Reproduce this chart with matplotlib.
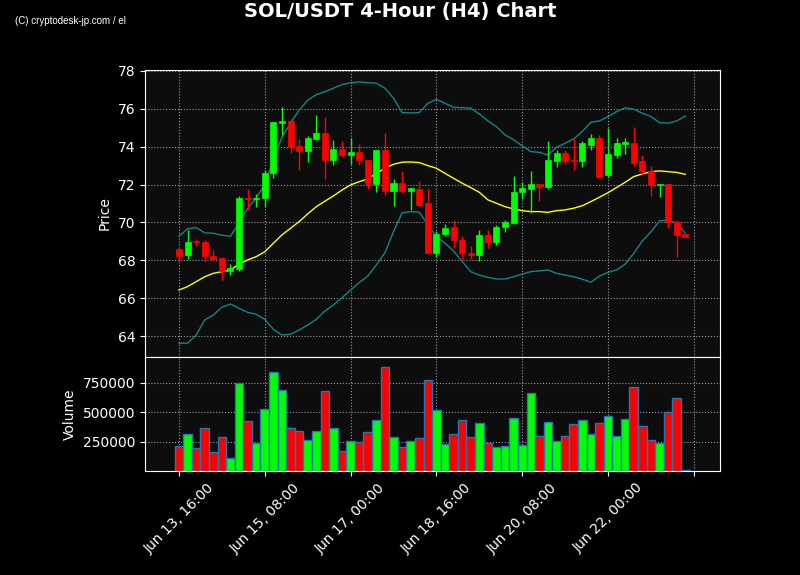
import numpy as np
import pandas as pd
import matplotlib
matplotlib.use('Agg')
import matplotlib.pyplot as plt
from matplotlib.ticker import FuncFormatter

# SOL/USDT 4h candles (60 bars from Jun 13 16:00)
times = pd.date_range('2025-06-13 16:00', periods=60, freq='4h')

opens = [68.62, 68.26, 69.00, 68.99, 68.25, 68.14, 67.42, 67.56, 71.31, 71.24,
         71.28, 72.60, 75.24, 75.33, 74.03, 73.76, 74.43, 74.70, 73.29, 73.89,
         73.55, 73.74, 73.32, 72.05, 73.85, 71.65, 72.09, 71.65, 71.77, 71.00,
         68.41, 69.37, 69.78, 69.09, 68.41, 68.26, 69.36, 68.95, 69.74, 69.99,
         71.60, 71.79, 72.05, 71.86, 73.23, 73.69, 73.29, 73.23, 74.11, 74.48,
         72.48, 73.55, 74.15, 74.20, 73.22, 72.74, 71.96, 72.04, 70.03, 69.37]
highs = [68.65, 69.59, 69.13, 69.06, 68.55, 68.19, 67.82, 71.38, 71.77, 71.51,
         72.79, 75.28, 76.11, 75.47, 74.43, 74.57, 75.68, 75.58, 74.34, 74.29,
         74.47, 74.15, 73.32, 73.85, 74.73, 72.30, 72.70, 71.84, 72.21, 71.81,
         69.52, 69.94, 70.13, 69.27, 68.76, 69.59, 69.59, 69.87, 70.13, 72.44,
         72.12, 72.69, 72.05, 74.31, 73.85, 73.85, 74.38, 74.29, 74.68, 74.59,
         74.96, 74.48, 74.47, 75.05, 73.57, 72.99, 72.04, 72.04, 70.13, 69.37]
lows = [67.86, 68.09, 68.74, 67.91, 67.95, 66.96, 67.23, 67.42, 70.68, 70.82,
        70.82, 72.35, 74.64, 73.64, 72.79, 73.20, 74.34, 72.30, 73.02, 73.45,
        73.11, 73.02, 71.74, 71.60, 71.45, 70.85, 71.56, 70.64, 70.85, 68.41,
        68.19, 69.27, 68.67, 68.04, 68.09, 67.97, 68.67, 68.78, 69.48, 69.94,
        71.24, 70.50, 71.15, 71.74, 72.90, 73.06, 72.79, 72.93, 73.85, 72.35,
        72.41, 73.41, 73.59, 73.00, 72.49, 71.40, 71.35, 69.71, 68.19, 69.22]
closes = [68.21, 68.99, 68.95, 68.21, 68.09, 67.42, 67.60, 71.31, 71.24, 71.31,
          72.63, 75.28, 75.33, 73.97, 73.76, 74.47, 74.70, 73.29, 73.89, 73.55,
          73.74, 73.29, 72.05, 73.85, 71.65, 72.09, 71.65, 71.84, 70.94, 68.41,
          69.41, 69.73, 69.06, 68.37, 68.26, 69.36, 68.95, 69.78, 70.04, 71.63,
          71.84, 72.05, 71.86, 73.27, 73.69, 73.23, 73.23, 74.17, 74.48, 72.41,
          73.59, 74.17, 74.24, 73.13, 72.70, 71.96, 72.04, 70.03, 69.32, 69.22]
volumes = [209e3, 311e3, 192e3, 362e3, 158e3, 285e3, 107e3, 751e3, 429e3, 234e3,
           531e3, 845e3, 692e3, 370e3, 342e3, 266e3, 342e3, 684e3, 362e3, 172e3,
           257e3, 243e3, 336e3, 438e3, 887e3, 285e3, 201e3, 251e3, 277e3, 777e3,
           523e3, 226e3, 319e3, 438e3, 285e3, 412e3, 234e3, 201e3, 209e3, 455e3,
           218e3, 667e3, 302e3, 421e3, 251e3, 302e3, 404e3, 438e3, 319e3, 412e3,
           472e3, 294e3, 446e3, 718e3, 379e3, 260e3, 234e3, 506e3, 624e3, 5e3]

# Bollinger bands (20) as drawn
bb_upper = [69.27, 69.66, 69.73, 69.45, 69.43, 69.32, 69.27, 69.97, 70.73, 71.30,
            72.00, 73.30, 74.50, 75.24, 75.93, 76.45, 76.75, 76.90, 77.09, 77.28,
            77.38, 77.42, 77.38, 77.35, 77.09, 76.56, 75.80, 75.78, 75.80, 76.29,
            76.50, 76.29, 76.08, 76.06, 76.03, 75.73, 75.36, 75.06, 74.62, 74.36,
            74.04, 73.74, 73.70, 73.56, 73.97, 74.18, 74.41, 74.80, 75.29, 75.36,
            75.59, 75.85, 76.06, 75.98, 75.77, 75.59, 75.27, 75.24, 75.36, 75.62]
bb_mid = [66.43, 66.61, 66.87, 67.13, 67.31, 67.40, 67.49, 67.80, 68.02, 68.19,
          68.45, 68.90, 69.34, 69.69, 70.04, 70.45, 70.83, 71.12, 71.40, 71.71,
          71.98, 72.15, 72.29, 72.59, 72.86, 73.07, 73.18, 73.19, 73.16, 73.00,
          72.86, 72.59, 72.33, 72.07, 71.84, 71.59, 71.19, 71.01, 70.83, 70.71,
          70.62, 70.57, 70.57, 70.53, 70.62, 70.66, 70.75, 70.88, 71.10, 71.33,
          71.57, 71.84, 72.12, 72.42, 72.56, 72.68, 72.72, 72.68, 72.64, 72.54]
bb_lower = [63.62, 63.62, 64.05, 64.85, 65.11, 65.52, 65.69, 65.46, 65.25, 65.15,
            64.88, 64.35, 64.05, 64.09, 64.32, 64.58, 64.88, 65.32, 65.64, 66.02,
            66.43, 66.82, 67.17, 67.75, 68.40, 69.51, 70.51, 70.57, 70.54, 69.87,
            69.25, 68.90, 68.49, 67.93, 67.40, 67.22, 67.10, 67.01, 67.01, 67.13,
            67.27, 67.40, 67.44, 67.49, 67.31, 67.22, 67.13, 67.00, 66.84, 67.17,
            67.36, 67.49, 67.80, 68.37, 69.02, 69.51, 70.08, 70.13, 69.95, 69.43]

UP, DOWN = '#00ff00', '#ff0000'
BG = '#0d0d0d'

x = np.arange(len(opens))
o, h, l, c = map(np.array, (opens, highs, lows, closes))
colors = [UP if cc >= oo else DOWN for oo, cc in zip(o, c)]

fig = plt.figure(figsize=(8, 5.75), dpi=100, facecolor='black')
ax1 = fig.add_axes([0.18125, 0.3791, 0.71875, 0.4992])
ax2 = fig.add_axes([0.18125, 0.1809, 0.71875, 0.1982], sharex=ax1)

# candles
ax1.vlines(x, l, h, colors=colors, linewidth=1, zorder=3)
ax1.bar(x, np.abs(c - o), bottom=np.minimum(o, c), width=0.7,
        color=colors, edgecolor=colors, linewidth=0.5, zorder=4)

ax1.plot(x, bb_upper, color='#108585', lw=1, zorder=2)
ax1.plot(x, bb_lower, color='#108585', lw=1, zorder=2)
ax1.plot(x, bb_mid, color='#ffff00', lw=1, zorder=2)

ax2.bar(x, volumes, width=1.0, color=colors, edgecolor='#1f77b4', linewidth=1)

for ax in (ax1, ax2):
    ax.set_facecolor(BG)
    ax.grid(True, color='#999999', linestyle=':', linewidth=0.8)
    ax.set_axisbelow(True)
    for s in ax.spines.values():
        s.set_color('white')
    ax.tick_params(colors='white', labelsize=10)

ax1.set_xlim(-3.96, 63.05)
ax1.set_ylim(62.89, 78.05)
ax1.set_yticks(np.arange(64, 79, 2))
ax1.set_ylabel('Price', color='white', fontsize=10)
ax1.tick_params(axis='x', bottom=False, labelbottom=False)

ax2.set_ylim(0, 970000)
ax2.set_yticks([250000, 500000, 750000])
ax2.yaxis.set_major_formatter(FuncFormatter(lambda v, p: f'{v:.0f}'))
ax2.set_ylabel('Volume', color='white', fontsize=10)

tick_pos = [0, 10, 20, 30, 40, 50, 60]
tick_lab = [times[i].strftime('%b %d, %H:%M') for i in tick_pos[:-1]] + ['']
ax2.set_xticks(tick_pos)
ax2.set_xticklabels(tick_lab, rotation=45)

fig.text(0.5, 1 - 11 / 575, 'SOL/USDT 4-Hour (H4) Chart', ha='center', va='center',
         color='white', fontsize=14, fontweight='bold')
fig.text(15 / 800, 1 - 21 / 575, '(C) cryptodesk-jp.com / el', ha='left', va='center',
         color='white', fontsize=7, family='Liberation Sans')

fig.savefig('out.png', dpi=100, facecolor='black')
